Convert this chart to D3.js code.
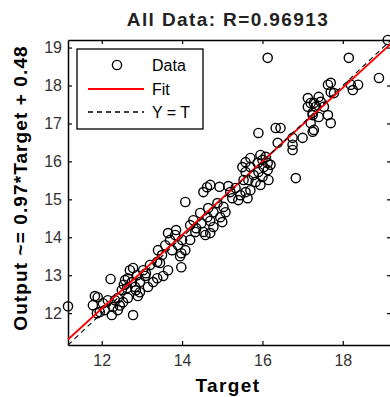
<!DOCTYPE html>
<html>
<head>
<meta charset="utf-8">
<script src="https://cdn.jsdelivr.net/npm/d3@7"></script>
<style>
  body { margin: 0; background: #fff; }
  svg { display: block; font-family: "Liberation Sans", Arial, sans-serif; }
</style>
</head>
<body>
<div id="chart"></div>
<script>
// targets / outputs
const targets = [
  11.16, 12.22, 11.90, 11.78, 12.03, 12.28, 11.95, 12.25, 12.40, 12.53, 12.65, 12.78, 12.63, 12.75,
  12.88, 12.70, 13.03, 13.20, 13.38, 13.38, 13.15, 12.95, 12.83, 12.95, 13.08, 12.15, 12.65, 12.78,
  13.45, 13.98, 13.98, 12.40, 11.83, 12.08, 12.50, 12.90, 13.28, 13.53, 13.65, 12.58, 12.33,
  11.88, 12.45, 12.85, 13.10, 12.55,
  13.70, 13.83, 13.58, 13.90, 13.75, 14.00, 13.85, 13.65, 14.08, 13.95, 13.50, 13.40,
  14.20, 14.33, 14.53, 14.70, 14.35, 14.28, 14.48, 14.70, 14.63, 14.78, 14.95, 15.08, 15.03, 14.88,
  14.65, 14.45, 14.20, 14.78, 14.58, 15.00,
  14.08, 14.53, 14.62, 14.70, 14.93,
  15.20, 15.33, 15.45, 15.58, 15.63, 15.40, 15.25, 15.70, 15.15,
  15.50, 15.58, 15.70, 15.88, 16.00, 16.13, 16.03, 15.90, 15.78, 16.00, 16.13, 15.65, 15.83, 15.95,
  16.15, 15.58, 15.95, 16.08, 15.70, 16.20, 15.53,
  15.90, 16.33, 16.45, 16.38, 16.75, 17.00, 16.75, 16.75, 16.83, 16.13,
  17.28, 17.25, 17.20, 17.28, 17.40, 17.13, 17.13, 17.20, 17.40, 17.45, 17.33, 17.53, 17.25, 17.63,
  17.70, 17.25, 17.70, 17.70, 17.78, 17.63, 18.15, 18.90, 19.12, 18.20, 18.38, 18.25
];
const outputs = [
  12.18, 12.90, 12.42, 12.21, 12.26, 12.16, 12.03, 11.95, 12.08, 12.29, 12.40, 11.95, 12.66, 12.82,
  13.00, 13.13, 13.13, 13.27, 13.35, 12.92, 12.69, 12.55, 12.69, 12.82, 12.98, 12.34, 12.92, 13.19,
  13.32, 13.21, 13.58, 12.40, 12.45, 12.08, 12.61, 12.45, 12.82, 12.98, 13.13, 12.87, 12.34,
  12.00, 12.20, 12.60, 13.05, 12.75,
  13.93, 14.06, 13.79, 13.79, 13.66, 13.93, 14.19, 14.11, 13.66, 13.50, 13.53, 13.66,
  13.93, 14.14, 14.14, 14.11, 14.24, 14.45, 14.37, 14.43, 14.53, 14.66, 14.53, 14.66, 14.80, 14.90,
  14.77, 14.64, 14.32, 14.27, 14.06, 14.40,
  14.93, 15.19, 15.32, 15.38, 15.33,
  15.19, 15.30, 15.11, 15.19, 15.03, 14.98, 15.03, 15.24, 15.35,
  15.85, 15.98, 15.85, 15.96, 16.04, 15.96, 15.85, 15.72, 15.64, 15.59, 15.77, 15.51, 15.46, 15.38,
  15.51, 15.72, 16.17, 16.12, 16.09, 15.91, 15.51,
  16.75, 16.88, 16.88, 16.49, 16.62, 16.62, 16.44, 16.30, 15.56, 18.73,
  17.54, 17.28, 17.01, 16.83, 17.17, 17.44, 17.67, 17.54, 17.70, 17.57, 17.44, 17.44, 17.22, 17.22,
  17.01, 16.78, 18.07, 17.83, 17.80, 18.02, 18.73, 18.20, 19.20, 18.02, 18.02, 17.88
];

const fitSlope = 0.97;
const fitIntercept = 0.48;
const titleText = 'All Data: R=0.96913';
const xLabel = 'Target';
const yLabel = 'Output ~= 0.97*Target + 0.48';
const xTicks = [12, 14, 16, 18];
const yTicks = [12, 13, 14, 15, 16, 17, 18, 19];
const legendLabels = ['Data', 'Fit', 'Y = T'];

const W = 390, H = 397;
const plot = { left: 68, right: 391, top: 40, bottom: 345 };

const svg = d3.select('#chart')
  .append('svg')
  .attr('width', W)
  .attr('height', H);

const lims = d3.extent(targets.concat(outputs));

const x = d3.scaleLinear().domain(lims).range([plot.left, plot.right]);
const y = d3.scaleLinear().domain(lims).range([plot.bottom, plot.top]);

// axes, ticks inward on all four sides
const styleAxis = g => {
  g.select('.domain').attr('stroke', '#000').attr('stroke-width', 1.5);
  g.selectAll('.tick line').attr('stroke', '#000').attr('stroke-width', 1.2);
  g.selectAll('.tick text').attr('fill', '#333').style('font-size', '16px')
    .style('font-family', '"Liberation Sans", Arial, sans-serif');
};

svg.append('g')
  .attr('transform', `translate(0,${plot.bottom})`)
  .call(d3.axisBottom(x).tickValues(xTicks).tickSize(-4).tickSizeOuter(0).tickPadding(10))
  .call(styleAxis);

svg.append('g')
  .attr('transform', `translate(0,${plot.top})`)
  .call(d3.axisTop(x).tickValues(xTicks).tickSize(-4).tickSizeOuter(0).tickFormat(''))
  .call(styleAxis);

svg.append('g')
  .attr('transform', `translate(${plot.left},0)`)
  .call(d3.axisLeft(y).tickValues(yTicks).tickSize(-4).tickSizeOuter(0).tickPadding(6))
  .call(styleAxis);

svg.append('g')
  .attr('transform', `translate(${plot.right},0)`)
  .call(d3.axisRight(y).tickValues(yTicks).tickSize(-4).tickSizeOuter(0).tickFormat(''))
  .call(styleAxis);

// data circles
svg.append('g')
  .selectAll('circle')
  .data(targets.map((t, i) => [t, outputs[i]]))
  .enter()
  .append('circle')
  .attr('cx', d => x(d[0]))
  .attr('cy', d => y(d[1]))
  .attr('r', 4.6)
  .attr('fill', 'none')
  .attr('stroke', '#000')
  .attr('stroke-width', 1.4);

// fit line and Y = T
svg.append('line')
  .attr('x1', x(lims[0])).attr('y1', y(fitSlope * lims[0] + fitIntercept))
  .attr('x2', x(lims[1])).attr('y2', y(fitSlope * lims[1] + fitIntercept))
  .attr('stroke', '#ff0000')
  .attr('stroke-width', 1.8);

svg.append('line')
  .attr('x1', x(lims[0])).attr('y1', y(lims[0]))
  .attr('x2', x(lims[1])).attr('y2', y(lims[1]))
  .attr('stroke', '#000')
  .attr('stroke-width', 1.1)
  .attr('stroke-dasharray', '5,4');

// legend
const lg = svg.append('g').attr('transform', 'translate(77,49)');
lg.append('rect')
  .attr('width', 126).attr('height', 80)
  .attr('fill', '#fff').attr('stroke', '#000').attr('stroke-width', 1.3);
lg.append('circle')
  .attr('cx', 40).attr('cy', 16).attr('r', 4.6)
  .attr('fill', 'none').attr('stroke', '#000').attr('stroke-width', 1.4);
lg.append('line')
  .attr('x1', 11).attr('x2', 67).attr('y1', 40).attr('y2', 40)
  .attr('stroke', '#ff0000').attr('stroke-width', 1.8);
lg.append('line')
  .attr('x1', 11).attr('x2', 67).attr('y1', 63).attr('y2', 63)
  .attr('stroke', '#000').attr('stroke-width', 1.4).attr('stroke-dasharray', '5,4');
lg.selectAll('text.lab')
  .data(legendLabels)
  .enter()
  .append('text')
  .attr('class', 'lab')
  .attr('x', 75)
  .attr('y', (d, i) => 22 + i * 23.5)
  .style('font-size', '16px')
  .attr('fill', '#000')
  .text(d => d);

// titles
svg.append('text')
  .attr('x', 228).attr('y', 26)
  .attr('text-anchor', 'middle')
  .style('font-size', '19px').style('font-weight', 'bold').style('letter-spacing', '1.4px')
  .attr('fill', '#222')
  .text(titleText);

svg.append('text')
  .attr('x', 228).attr('y', 392)
  .attr('text-anchor', 'middle')
  .style('font-size', '19px').style('font-weight', 'bold').style('letter-spacing', '1.4px')
  .attr('fill', '#000')
  .text(xLabel);

svg.append('text')
  .attr('transform', 'translate(27,188) rotate(-90)')
  .attr('text-anchor', 'middle')
  .style('font-size', '19px').style('font-weight', 'bold').style('letter-spacing', '1.1px')
  .attr('fill', '#000')
  .text(yLabel);
</script>
</body>
</html>
